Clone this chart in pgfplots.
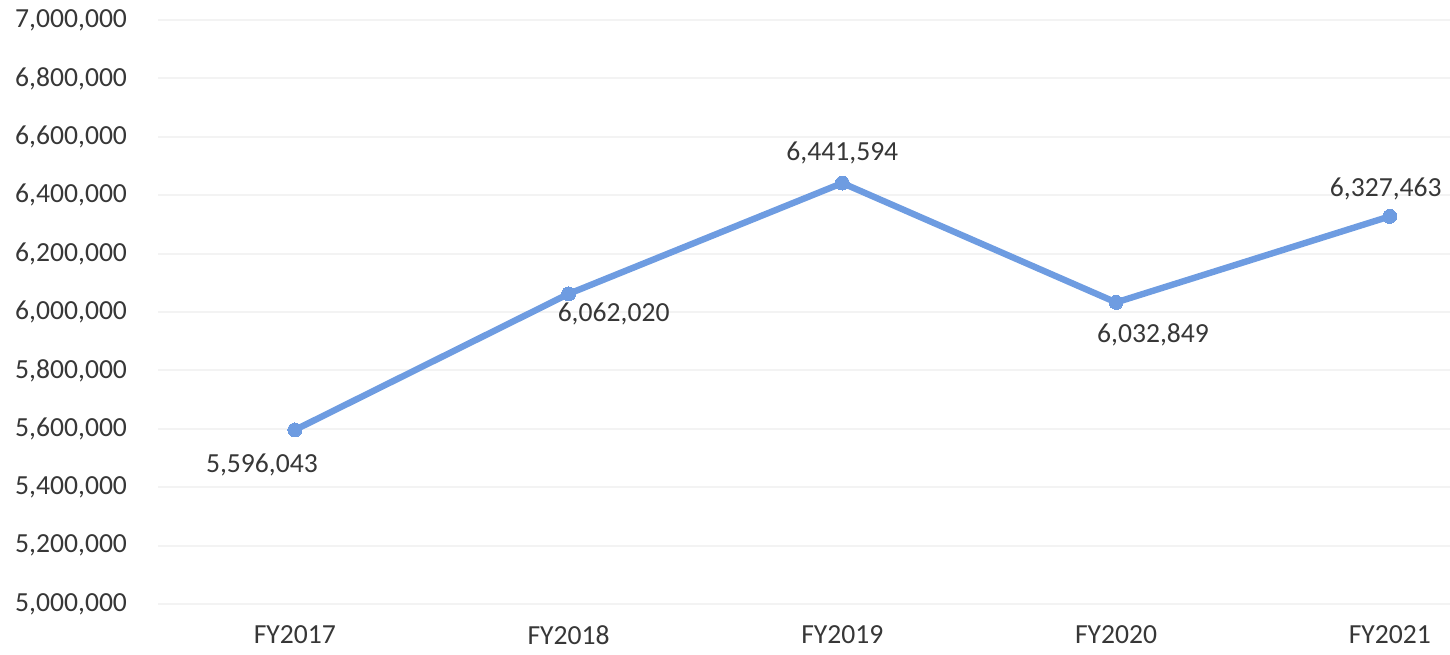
\documentclass[border=0pt]{standalone}
\usepackage{pgfplots}
\pgfplotsset{compat=1.18}
\usepackage{pgfplotstable}
\usepackage{fontspec}
\setmainfont{Carlito}
\definecolor{lineblue}{RGB}{110,156,225}
\definecolor{txt}{RGB}{55,55,55}
\definecolor{gridc}{RGB}{243,243,243}
\pgfplotstableread{
x y dx dy
0 5596043 -16.5 -17.5
1 6062020 22.5 -10
2 6441594 0 15
3 6032849 18.5 -16
4 6327463 -2 13.5
}\datatable
\begin{document}
\begin{tikzpicture}
\useasboundingbox (-79pt,-25pt) rectangle (646pt,302pt);
\begin{axis}[
  at={(0,0)}, anchor=south west,
  scale only axis, width=646pt, height=292pt,
  xmin=-0.5, xmax=4.22,
  ymin=5000000, ymax=7000000,
  ytick={5000000,5200000,5400000,5600000,5800000,6000000,6200000,6400000,6600000,6800000,7000000},
  scaled y ticks=false,
  yticklabel style={/pgf/number format/fixed, /pgf/number format/1000 sep={,}, xshift=-12pt},
  /pgf/number format/assume math mode=true,
  xtick={0,1,2,3,4},
  xticklabels={FY2017,FY2018,FY2019,FY2020,FY2021},
  axis line style={opacity=0},
  tick style={draw=none},
  ymajorgrids, xmajorgrids=false,
  grid style={draw=gridc, line width=1pt},
  tick label style={font=\fontsize{13.8}{16}\selectfont, text=txt},
  xticklabel style={yshift=-7.5pt},
  clip=false,
]
\addplot[lineblue, line width=3.2pt, mark=*, mark size=3.5pt,
  mark options={fill=lineblue, draw=lineblue, line width=0pt},
  visualization depends on={\thisrow{dx} \as \dx},
  visualization depends on={\thisrow{dy} \as \dy},
  nodes near coords={\pgfmathprintnumber[fixed,1000 sep={,}]{\pgfplotspointmeta}},
  point meta=explicit,
  nodes near coords style={anchor=center, xshift=\dx pt, yshift=\dy pt, font=\fontsize{13.8}{16}\selectfont, text=txt, /pgf/number format/assume math mode=true},
] table[x=x, y=y, meta=y] {\datatable};
\end{axis}
\end{tikzpicture}
\end{document}
